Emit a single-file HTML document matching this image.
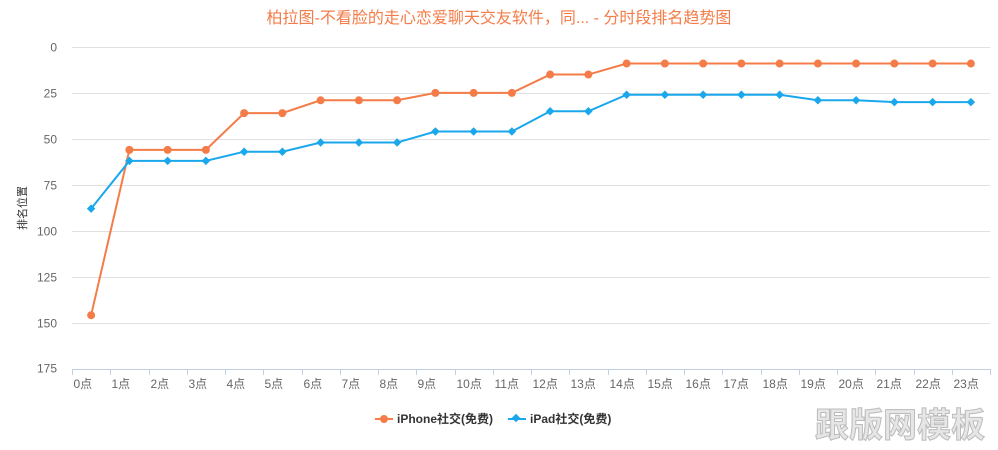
<!DOCTYPE html>
<html><head><meta charset="utf-8"><style>
body{margin:0;background:#fff;width:998px;height:445px;overflow:hidden;font-family:"Liberation Sans","Noto Sans CJK SC",sans-serif}
</style></head><body>
<svg width="998" height="445" xmlns="http://www.w3.org/2000/svg" font-family="Liberation Sans, Noto Sans CJK SC, sans-serif">
<text x="499" y="23" text-anchor="middle" font-size="16" fill="#f47c48">柏拉图-不看脸的走心恋爱聊天交友软件，同... - 分时段排名趋势图</text>
<g id="grid" stroke="#e0e0e0" stroke-width="1"></g>
<g id="ylab" font-size="12" fill="#666" text-anchor="end"></g>
<text transform="translate(26,208) rotate(-90)" font-size="11" fill="#333" text-anchor="middle">排名位置</text>
<line x1="72" y1="369.5" x2="990" y2="369.5" stroke="#c0d0e0"/>
<g id="xt" stroke="#c0d0e0"></g>
<g id="xl" font-size="12" fill="#666"></g>
<polyline id="l1" fill="none" stroke="#f47c48" stroke-width="2"/>
<polyline id="l2" fill="none" stroke="#1aa7ec" stroke-width="2"/>
<g id="p1" fill="#f47c48"></g>
<g id="p2" fill="#1aa7ec"></g>
<line x1="375" y1="419" x2="393" y2="419" stroke="#f47c48" stroke-width="2"/><circle cx="384" cy="419" r="4" fill="#f47c48"/>
<text x="397" y="423" font-size="12" font-weight="bold" fill="#333">iPhone社交(免费)</text>
<line x1="508" y1="419" x2="526" y2="419" stroke="#1aa7ec" stroke-width="2"/><rect x="513" y="415" width="6" height="6" transform="rotate(45 516 418)" fill="#1aa7ec"/>
<text x="530" y="423" font-size="12" font-weight="bold" fill="#333">iPad社交(免费)</text>
<text x="985" y="437" text-anchor="end" font-size="34" font-weight="bold" fill="#e6e6e6" stroke="#bbb" stroke-width="1">跟版网模板</text>
</svg>
<script>
var ns="http://www.w3.org/2000/svg";
function el(p,t,a){var e=document.createElementNS(ns,t);for(var k in a)e.setAttribute(k,a[k]);document.getElementById(p).appendChild(e);return e;}
function Y(v){return 47+v*1.837;}
for(var v=0;v<=175;v+=25){var y=Math.round(Y(v))+0.5;if(v<175)el("grid","line",{x1:72,x2:990,y1:y,y2:y});var t=el("ylab","text",{x:57,y:y+4});t.textContent=v;}
var w=38.25;
for(var i=0;i<=24;i++){var x=Math.round(72+i*w)+0.5;el("xt","line",{x1:x,x2:x,y1:369,y2:375});if(i<24){var t=el("xl","text",{x:x+1,y:388});t.textContent=i+"点";}}
var a=[146,56,56,56,36,36,29,29,29,25,25,25,15,15,9,9,9,9,9,9,9,9,9,9];
var b=[88,62,62,62,57,57,52,52,52,46,46,46,35,35,26,26,26,26,26,29,29,30,30,30];
var s1="",s2="";
for(var i=0;i<24;i++){var x=72+w/2+i*w;s1+=x+","+Y(a[i])+" ";s2+=x+","+Y(b[i])+" ";
el("p1","circle",{cx:x,cy:Y(a[i]),r:4});
el("p2","rect",{x:x-3,y:Y(b[i])-3,width:6,height:6,transform:"rotate(45 "+x+" "+Y(b[i])+")"});}
document.getElementById("l1").setAttribute("points",s1);
document.getElementById("l2").setAttribute("points",s2);
</script>
</body></html>
